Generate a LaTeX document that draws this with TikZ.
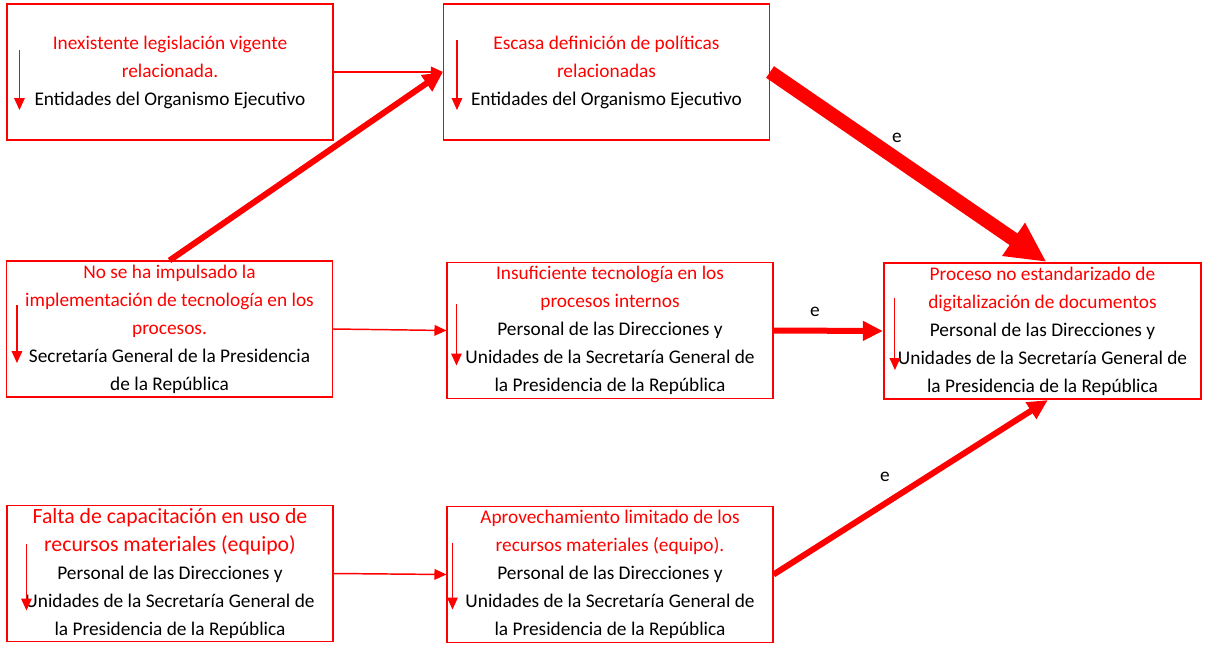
\documentclass[tikz,border=0pt]{standalone}
\usepackage{fontspec}
\setmainfont{Carlito}
\usepackage{tikz}
\usetikzlibrary{arrows.meta, calc}

\tikzset{
	cause/.style={draw=red, line width=0.8pt, minimum width=244.5pt, minimum height=102pt, inner sep=0pt, align=center, font=\fontsize{14.5}{21}\selectfont},
	thinarrow/.style={red, line width=1.1pt, -{Triangle[length=9pt, width=8pt]}},
	thickarrow/.style={red, line width=4.5pt, -{Triangle[length=15pt, width=14pt]}},
	hugearrow/.style={red, line width=10.5pt, -{Triangle[length=30pt, width=28pt]}},
	innerarrow/.style={red, line width=0.8pt, -{Triangle[length=9pt, width=8pt]}},
	elabel/.style={font=\fontsize{14.5}{16}\selectfont}
}

\begin{document}
\begin{tikzpicture}[x=0.75pt, y=-0.75pt]
	\useasboundingbox (0,0) rectangle (1209,646);
	
	% first row
	\node [cause] (legis) at (170,72) {\textcolor{red}{Inexistente legislación vigente}\\\textcolor{red}{relacionada.}\\Entidades del Organismo Ejecutivo};
	\node [cause] (polit) at (606.5,72) {\textcolor{red}{Escasa definición de políticas}\\\textcolor{red}{relacionadas}\\Entidades del Organismo Ejecutivo};
	
	% second row
	\node [cause] (impuls) at (169.5,329) {\textcolor{red}{No se ha impulsado la}\\\textcolor{red}{implementación de tecnología en los}\\\textcolor{red}{procesos.}\\Secretaría General de la Presidencia\\de la República};
	\node [cause] (tecno) at (610,330.5) {\textcolor{red}{Insuficiente tecnología en los}\\\textcolor{red}{procesos internos}\\Personal de las Direcciones y\\Unidades de la Secretaría General de\\la Presidencia de la República};
	\node [cause, line width=1.6pt, minimum width=237.75pt] (proceso) at (1042.5,331) {\textcolor{red}{Proceso no estandarizado de}\\\textcolor{red}{digitalización de documentos}\\Personal de las Direcciones y\\Unidades de la Secretaría General de\\la Presidencia de la República};
	
	% third row
	\node [cause] (capac) at (170,573.5) {\textcolor{red}{\fontsize{16.3}{21}\selectfont Falta de capacitación en uso de}\\\textcolor{red}{\fontsize{16.3}{21}\selectfont recursos materiales (equipo)}\\Personal de las Direcciones y\\Unidades de la Secretaría General de\\la Presidencia de la República};
	\node [cause] (aprov) at (610,574.5) {\textcolor{red}{Aprovechamiento limitado de los}\\\textcolor{red}{recursos materiales (equipo).}\\Personal de las Direcciones y\\Unidades de la Secretaría General de\\la Presidencia de la República};
	
	% small arrows inside the boxes
	\foreach \n/\dx/\ya/\yb in {legis/13/-22/38, polit/14/-32/38, impuls/11/-24/34, tecno/10/-27/35, proceso/12/-33/39, capac/20/-30/37, aprov/6/-32/35}
		\draw [innerarrow] ($(\n.west)+(\dx,\ya)$) -- ($(\n.west)+(\dx,\yb)$);
	
	% connectors
	\draw [thinarrow] (legis.east) -- (polit.west);
	\draw [thickarrow] (impuls.north) -- (polit.west);
	\draw [hugearrow] (polit.east) -- ([xshift=3pt]proceso.north);
	\draw [thinarrow] (impuls.east) -- (tecno.west);
	\draw [thickarrow] (tecno.east) -- (proceso.west);
	\draw [thinarrow] (capac.east) -- (aprov.west);
	\draw [thickarrow] (aprov.east) -- ([xshift=4pt]proceso.south);
	
	% labels
	\node [elabel] (e1) at (897,138) {e};
	\node [elabel] (e2) at (815,312) {e};
	\node [elabel] (e3) at (885,477) {e};
\end{tikzpicture}
\end{document}
